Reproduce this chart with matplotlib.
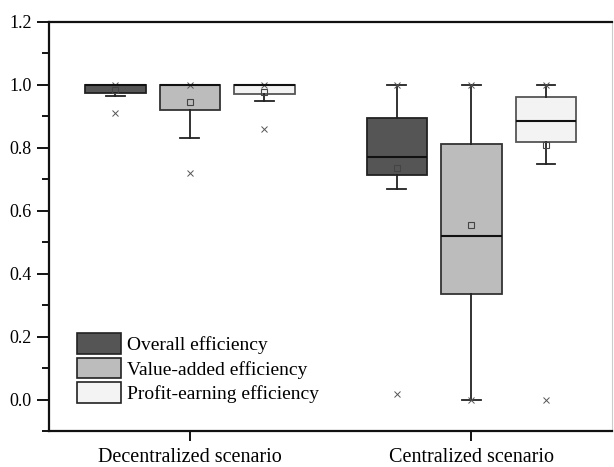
import numpy as np
import matplotlib
matplotlib.use('Agg')
import matplotlib.pyplot as plt
from matplotlib.patches import Patch
from matplotlib.ticker import MultipleLocator

plt.rcParams['font.family'] = ['Liberation Serif', 'DejaVu Serif']

scenarios = ['Decentralized scenario', 'Centralized scenario']
series = ['Overall efficiency', 'Value-added efficiency', 'Profit-earning efficiency']
colors = ['#555555', '#bcbcbc', '#f3f3f3']
edges = ['#222222', '#333333', '#555555']

# per series: [decentralized, centralized]
q1 = [[0.975, 0.715], [0.921, 0.335], [0.972, 0.819]]
med = [[1.0, 0.772], [1.0, 0.52], [1.0, 0.885]]
q3 = [[1.0, 0.895], [1.0, 0.813], [1.0, 0.963]]
whislo = [[0.965, 0.669], [0.83, 0.0], [0.948, 0.75]]
whishi = [[1.0, 1.0], [1.0, 1.0], [1.0, 1.0]]
means = [[0.985, 0.737], [0.947, 0.554], [0.977, 0.808]]
mins = [[0.911, 0.017], [0.72, 0.0], [0.859, 0.0]]
maxs = [[1.0, 1.0], [1.0, 1.0], [1.0, 1.0]]

fig = plt.figure(figsize=(6.14, 4.67), dpi=100)
ax = fig.add_axes([0.08, 0.077, 0.917, 0.876])

offset = 0.265
width = 0.215
for s in range(3):
    stats = []
    for g in range(2):
        stats.append(dict(med=med[s][g], q1=q1[s][g], q3=q3[s][g],
                          whislo=whislo[s][g], whishi=whishi[s][g],
                          mean=means[s][g], fliers=[mins[s][g], maxs[s][g]]))
    pos = np.arange(1, 3) + (s - 1) * offset
    ax.bxp(stats, positions=pos, widths=width, capwidths=0.067,
           showmeans=True, patch_artist=True, manage_ticks=False,
           boxprops=dict(facecolor=colors[s], edgecolor=edges[s], lw=1.3),
           medianprops=dict(color='#111111', lw=1.5),
           whiskerprops=dict(color='#222222', lw=1.3),
           capprops=dict(color='#222222', lw=1.3),
           meanprops=dict(marker='s', markerfacecolor='none',
                          markeredgecolor='#444444', markersize=4.5, mew=0.8),
           flierprops=dict(marker='x', markeredgecolor='#555555',
                           markersize=4.5, mew=0.7))

ax.set_xlim(0.5, 2.5)
ax.set_ylim(-0.1, 1.2)
ax.set_xticks([1, 2])
ax.set_xticklabels(scenarios, fontsize=14.5)
ax.yaxis.set_minor_locator(MultipleLocator(0.1))
ax.set_yticks(np.arange(0, 1.21, 0.2))
ax.set_yticklabels(['%.1f' % v for v in np.arange(0, 1.21, 0.2)], fontsize=13)
ax.tick_params(axis='y', which='major', length=9, width=1.3, direction='out')
ax.tick_params(axis='y', which='minor', length=5, width=1.3, direction='out')
ax.tick_params(axis='x', length=7, width=1.3, direction='out', pad=5)
ax.tick_params(axis='x', which='minor', bottom=False)

for sp in ['left', 'bottom', 'top']:
    ax.spines[sp].set_linewidth(1.6)
    ax.spines[sp].set_color('#111111')
ax.spines['right'].set_color('#cccccc')
ax.spines['right'].set_linewidth(0.8)

handles = [Patch(facecolor=colors[i], edgecolor='#222222', lw=1.2) for i in range(3)]
ax.legend(handles, series, loc='lower left', bbox_to_anchor=(0.049, 0.068),
          frameon=False, fontsize=14, handlelength=2.3, handleheight=1.25,
          handletextpad=0.28, labelspacing=0.2, borderaxespad=0,
          borderpad=0)

fig.savefig('out.png', dpi=100)
